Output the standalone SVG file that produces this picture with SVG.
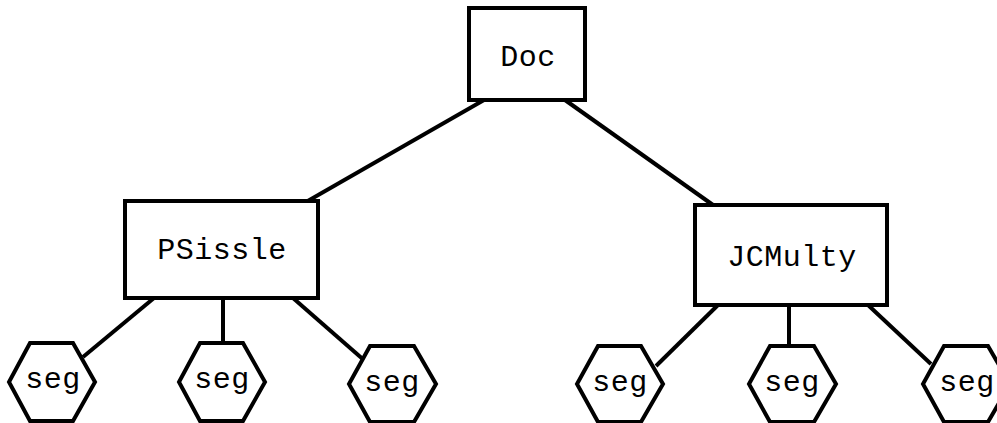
<svg xmlns="http://www.w3.org/2000/svg" width="997" height="423" viewBox="0 0 997 423">
<style>
.box{fill:#fff;stroke:#000;stroke-width:4}
.hex{fill:#fff;stroke:#000;stroke-width:4;stroke-linejoin:miter}
.lbl{font-family:"Liberation Mono","Courier New",monospace;font-size:30px;letter-spacing:0.5px;fill:#000;text-anchor:middle}
.edge{stroke:#000;stroke-width:4;fill:none}
</style>
<rect width="997" height="423" fill="#fff"/>
<g id="connectors">
<line class="edge" x1="484" y1="100" x2="306" y2="202"/>
<line class="edge" x1="565" y1="100" x2="713" y2="205"/>
<line class="edge" x1="154" y1="298" x2="83" y2="357"/>
<line class="edge" x1="223" y1="298" x2="223" y2="343"/>
<line class="edge" x1="293" y1="298" x2="365" y2="361"/>
<line class="edge" x1="718" y1="305" x2="656" y2="366"/>
<line class="edge" x1="789" y1="305" x2="789" y2="346"/>
<line class="edge" x1="868" y1="305" x2="931" y2="364"/>
</g>
<g id="doc">
<rect class="box" x="469" y="8" width="116" height="92"/>
<text class="lbl" x="528" y="66">Doc</text>
</g>
<g id="psissle">
<rect class="box" x="125" y="201" width="193" height="97"/>
<text class="lbl" x="222" y="259">PSissle</text>
</g>
<g id="jcmulty">
<rect class="box" x="695" y="205" width="192" height="100"/>
<text class="lbl" x="792" y="266">JCMulty</text>
</g>
<g id="seg1">
<polygon class="hex" points="30,343 73,343 95,382 73,421 30,421 9,382"/>
<text class="lbl" x="53" y="388">seg</text>
</g>
<g id="seg2">
<polygon class="hex" points="200,343 243,343 265,382 243,421 200,421 179,382"/>
<text class="lbl" x="222" y="388">seg</text>
</g>
<g id="seg3">
<polygon class="hex" points="370,346 414,346 436,384 414,422 370,422 349,384"/>
<text class="lbl" x="392" y="391">seg</text>
</g>
<g id="seg4">
<polygon class="hex" points="598,346 641,346 663,384 641,422 598,422 577,384"/>
<text class="lbl" x="620" y="391">seg</text>
</g>
<g id="seg5">
<polygon class="hex" points="770,346 814,346 836,384 814,422 770,422 749,384"/>
<text class="lbl" x="792" y="391">seg</text>
</g>
<g id="seg6">
<polygon class="hex" points="944,346 988,346 1010,384 988,422 944,422 923,384"/>
<text class="lbl" x="967" y="391">seg</text>
</g>
</svg>
